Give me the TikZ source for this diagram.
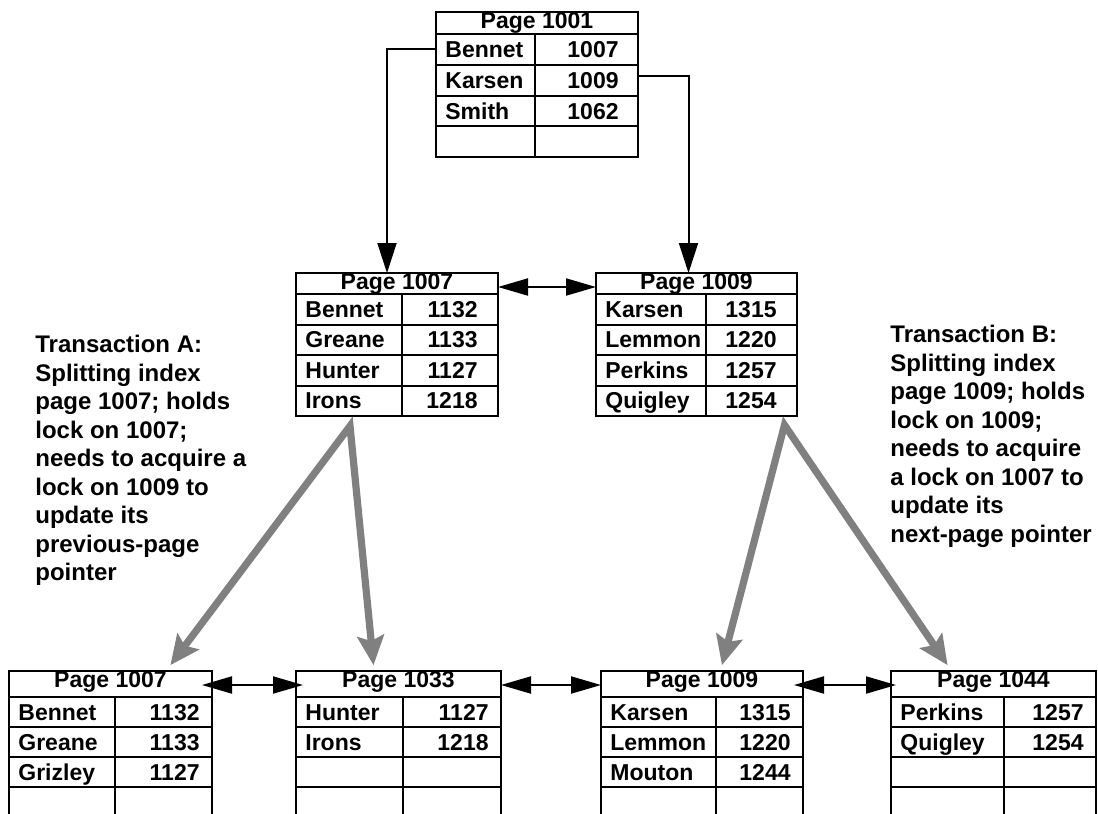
\documentclass[tikz,border=0pt]{standalone}
\usepackage{fontspec}
\setmainfont{Liberation Sans}
\usepackage{tikz}
\usetikzlibrary{arrows.meta,calc}
\tikzstyle{tabline} = [line width=1pt]
\tikzstyle{ptr} = [line width=1pt,-{Triangle[length=15pt,width=9.5pt]}]
\tikzstyle{link} = [line width=1pt,{Triangle[length=15pt,width=8.5pt]}-{Triangle[length=15pt,width=8.5pt]}]
\tikzstyle{split} = [line width=3.6pt,gray,line join=miter,{Stealth[length=15pt,width=14pt,inset=3pt,line width=0pt]}-{Stealth[length=15pt,width=14pt,inset=3pt,line width=0pt]}]

% name, left, top, right, divider, head height, row height, title, rows
\newcommand{\pagetable}[9]{%
	\node[pageframe, minimum width={(#4-#2)*0.5pt}, minimum height={(#6+4*#7)*0.5pt}] (#1) at ({#2},{#3}) {};
	\draw[tabline] ({#2},{#3+#6}) -- ({#4},{#3+#6});
	\draw[tabline] ({#5},{#3+#6}) -- ({#5},{#3+#6+4*#7});
	\foreach \who/\num [count=\k] in {#9} {
		\draw[tabline] ({#2},{#3+#6+\k*#7}) -- ({#4},{#3+#6+\k*#7});
		\coordinate (#1-l\k) at ({#2},{#3+#6+(\k-0.5)*#7});
		\coordinate (#1-r\k) at ({#4},{#3+#6+(\k-0.5)*#7});
		\node[cell, anchor=west] (#1-n\k) at ([xshift=4.5pt]#1-l\k) {\who};
		\node[cell, anchor=east] (#1-v\k) at ([xshift=-\numpad]#1-r\k) {\num};
	}
	\node[cell] (#1-head) at ({(#2+#4)/2},{#3+8.5}) {#8};
}

\begin{document}
\begin{tikzpicture}[x=0.5pt, y=-0.5pt,
	pageframe/.style={draw, line width=1pt, anchor=north west, inner sep=0pt, outer sep=0pt},
	cell/.style={font=\fontsize{11.5}{13}\selectfont\bfseries, inner sep=0pt, text height=8.2pt, text depth=0pt},
	note/.style={font=\fontsize{12}{14.25}\selectfont\bfseries, align=left, inner sep=0pt, anchor=north west}]
	
	\useasboundingbox (0,0) rectangle (1098,814);
	\clip (0,0) rectangle (1098,814);
	
	% PAGES
	
	\def\numpad{9.5pt}
	\pagetable{top1001}{436}{12}{638}{535}{22}{30.75}{Page 1001}{Bennet/1007,Karsen/1009,Smith/1062,/}
	
	\def\numpad{10pt}
	\pagetable{mid1007}{296}{273}{498}{402}{21}{30.5}{Page 1007}{Bennet/1132,Greane/1133,Hunter/1127,Irons/1218}
	\pagetable{mid1009}{596}{273}{797}{706}{21}{30.5}{Page 1009}{Karsen/1315,Lemmon/1220,Perkins/1257,Quigley/1254}
	
	\def\numpad{6pt}
	\pagetable{low1007}{9}{671}{212}{115}{26}{30}{Page 1007}{Bennet/1132,Greane/1133,Grizley/1127,/}
	\pagetable{low1033}{296}{671}{501}{403}{26}{30}{Page 1033}{Hunter/1127,Irons/1218,/,/}
	\pagetable{low1009}{601}{671}{803}{716}{26}{30}{Page 1009}{Karsen/1315,Lemmon/1220,Mouton/1244,/}
	\pagetable{low1044}{891}{671}{1096}{1004}{26}{30}{Page 1044}{Perkins/1257,Quigley/1254,/,/}
	
	% POINTERS
	
	\draw[ptr] (top1001-l1) -| ([xshift=-5pt]mid1007.north);
	\draw[ptr] ([yshift=2pt]top1001-r2) -| ([xshift=-4pt]mid1009.north);
	
	\draw[link] ([yshift=-7pt]mid1007.north east) -- ([yshift=-7pt]mid1009.north west);
	\draw[link, shorten <=-5pt, shorten >=-3.5pt] ([yshift=-7pt]low1007.north east) -- ([yshift=-7pt]low1033.north west);
	\draw[link] ([yshift=-7pt]low1033.north east) -- ([yshift=-7pt]low1009.north west);
	\draw[link, shorten <=-4.5pt, shorten >=-2.5pt] ([yshift=-7pt]low1009.north east) -- ([yshift=-7pt]low1044.north west);
	
	% SPLITS
	
	\coordinate (forkA) at ([xshift=-23.5pt,yshift=-5pt]mid1007.south);
	\coordinate (forkB) at ([xshift=44pt,yshift=-4.5pt]mid1009.south);
	\draw[split] ([xshift=30pt,yshift=3pt]low1007.north) -- (forkA) -- ([xshift=-12.5pt,yshift=3pt]low1033.north);
	\draw[split] ([xshift=10pt,yshift=3pt]low1009.north) -- (forkB) -- ([xshift=-23pt,yshift=3pt]low1044.north);
	
	% TRANSACTIONS
	
	\node[note] (txnA) at (35,335) {Transaction A:\\Splitting index\\page 1007; holds\\lock on 1007;\\needs to acquire a\\lock on 1009 to\\update its\\previous-page\\pointer};
	\node[note] (txnB) at (890,325) {Transaction B:\\Splitting index\\page 1009; holds\\lock on 1009;\\needs to acquire\\a lock on 1007 to\\update its\\next-page pointer};
	
\end{tikzpicture}
\end{document}
